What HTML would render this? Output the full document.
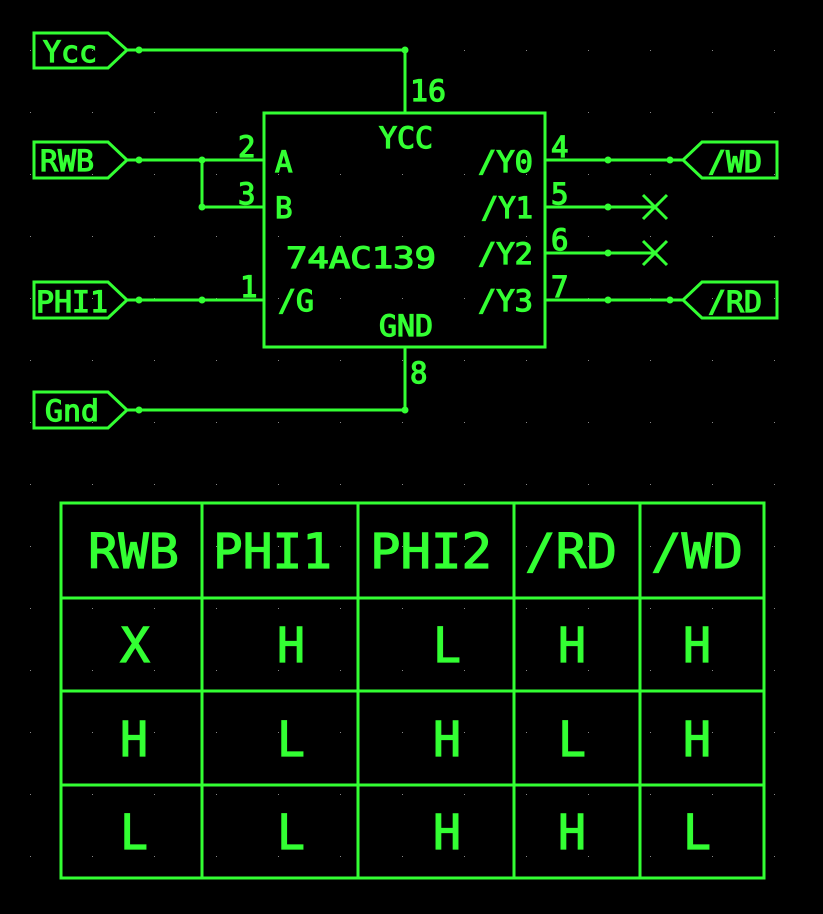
<!DOCTYPE html>
<html><head><meta charset="utf-8"><style>
html,body{margin:0;padding:0;background:#000;}
svg{display:block}
text{font-family:"DejaVu Sans Mono","Liberation Mono",monospace;fill:#3f3;stroke:#3f3;stroke-width:1.2px;}
</style></head><body>
<svg width="823" height="914" viewBox="0 0 823 914" xmlns="http://www.w3.org/2000/svg">
<defs>
<pattern id="g" x="0" y="0" width="62" height="62" patternUnits="userSpaceOnUse">
<rect x="30" y="50" width="1" height="1" fill="#888"/>
</pattern>
</defs>
<rect width="823" height="914" fill="#000"/>
<rect width="823" height="914" fill="url(#g)"/>
<g stroke="#3f3" stroke-width="3" fill="none">
<path d="M34 33 H108 L127 50 L108 68 H34 Z"/>
<path d="M34 142 H108 L127 160 L108 178 H34 Z"/>
<path d="M34 282 H108 L127 300 L108 318 H34 Z"/>
<path d="M34 392 H108 L127 410 L108 428 H34 Z"/>
<path d="M777 142 H702 L683 160 L702 178 H777 Z"/>
<path d="M777 282 H702 L683 300 L702 318 H777 Z"/>
<path d="M127 50 H405 V113"/>
<path d="M127 160 H264 M202 160 V207 H264"/>
<path d="M127 300 H264"/>
<path d="M127 410 H405 V347"/>
<path d="M545 160 H683 M545 207 H655 M545 253 H655 M545 300 H683"/>
<path d="M643 195 L667 219 M667 195 L643 219 M643 241 L667 265 M667 241 L643 265"/>
<rect x="264" y="113" width="281" height="234"/>
<rect x="61" y="503" width="703" height="375"/>
<path d="M61 598 H764 M61 691 H764 M61 785 H764 M202 503 V878 M358 503 V878 M514 503 V878 M640 503 V878"/>
</g>
<g fill="#3f3">
<circle cx="139" cy="50" r="3.5"/><circle cx="405" cy="50" r="3.5"/>
<circle cx="139" cy="160" r="3.5"/><circle cx="202" cy="160" r="3.5"/><circle cx="202" cy="207" r="3.5"/>
<circle cx="139" cy="300" r="3.5"/><circle cx="202" cy="300" r="3.5"/>
<circle cx="139" cy="410" r="3.5"/><circle cx="405" cy="410" r="3.5"/>
<circle cx="608" cy="160" r="3.5"/><circle cx="670" cy="160" r="3.5"/>
<circle cx="608" cy="207" r="3.5"/><circle cx="608" cy="253" r="3.5"/>
<circle cx="608" cy="300" r="3.5"/><circle cx="670" cy="300" r="3.5"/>
</g>
<g font-size="29">
<text x="43" y="62" textLength="54" lengthAdjust="spacingAndGlyphs">Ycc</text>
<text x="40" y="171" textLength="54" lengthAdjust="spacingAndGlyphs">RWB</text>
<text x="36" y="312" textLength="72" lengthAdjust="spacingAndGlyphs">PHI1</text>
<text x="45" y="421" textLength="54" lengthAdjust="spacingAndGlyphs">Gnd</text>
<text x="708" y="172" textLength="54" lengthAdjust="spacingAndGlyphs">/WD</text>
<text x="708" y="312" textLength="54" lengthAdjust="spacingAndGlyphs">/RD</text>
<text x="410" y="101" textLength="36" lengthAdjust="spacingAndGlyphs">16</text>
<text x="238" y="157">2</text>
<text x="238" y="204">3</text>
<text x="240" y="297">1</text>
<text x="410" y="383">8</text>
<text x="551" y="157">4</text>
<text x="551" y="204">5</text>
<text x="551" y="250">6</text>
<text x="551" y="297">7</text>
<text x="379" y="148" textLength="54" lengthAdjust="spacingAndGlyphs">YCC</text>
<text x="379" y="336" textLength="54" lengthAdjust="spacingAndGlyphs">GND</text>
<text x="275" y="172">A</text>
<text x="275" y="218">B</text>
<text x="278" y="311" textLength="36" lengthAdjust="spacingAndGlyphs">/G</text>
<text x="478" y="172" textLength="55" lengthAdjust="spacingAndGlyphs">/Y0</text>
<text x="481" y="218" textLength="52" lengthAdjust="spacingAndGlyphs">/Y1</text>
<text x="478" y="264" textLength="55" lengthAdjust="spacingAndGlyphs">/Y2</text>
<text x="478" y="311" textLength="55" lengthAdjust="spacingAndGlyphs">/Y3</text>
<text x="286" y="268" textLength="150" lengthAdjust="spacingAndGlyphs">74AC139</text>
</g>
<g font-size="48" style="stroke-width:1.8px">
<text x="88" y="568" textLength="91" lengthAdjust="spacingAndGlyphs">RWB</text>
<text x="213" y="568" textLength="119" lengthAdjust="spacingAndGlyphs">PHI1</text>
<text x="370" y="568" textLength="122" lengthAdjust="spacingAndGlyphs">PHI2</text>
<text x="525" y="568" textLength="92" lengthAdjust="spacingAndGlyphs">/RD</text>
<text x="651" y="568" textLength="92" lengthAdjust="spacingAndGlyphs">/WD</text>
<text x="120" y="662" textLength="30" lengthAdjust="spacingAndGlyphs">X</text>
<text x="277" y="662" textLength="28" lengthAdjust="spacingAndGlyphs">H</text>
<text x="433" y="662" textLength="28" lengthAdjust="spacingAndGlyphs">L</text>
<text x="558" y="662" textLength="28" lengthAdjust="spacingAndGlyphs">H</text>
<text x="683" y="662" textLength="28" lengthAdjust="spacingAndGlyphs">H</text>
<text x="120" y="756" textLength="28" lengthAdjust="spacingAndGlyphs">H</text>
<text x="277" y="756" textLength="28" lengthAdjust="spacingAndGlyphs">L</text>
<text x="433" y="756" textLength="28" lengthAdjust="spacingAndGlyphs">H</text>
<text x="558" y="756" textLength="28" lengthAdjust="spacingAndGlyphs">L</text>
<text x="683" y="756" textLength="28" lengthAdjust="spacingAndGlyphs">H</text>
<text x="120" y="849" textLength="28" lengthAdjust="spacingAndGlyphs">L</text>
<text x="277" y="849" textLength="28" lengthAdjust="spacingAndGlyphs">L</text>
<text x="433" y="849" textLength="28" lengthAdjust="spacingAndGlyphs">H</text>
<text x="558" y="849" textLength="28" lengthAdjust="spacingAndGlyphs">H</text>
<text x="683" y="849" textLength="28" lengthAdjust="spacingAndGlyphs">L</text>
</g>
</svg>
</body></html>
